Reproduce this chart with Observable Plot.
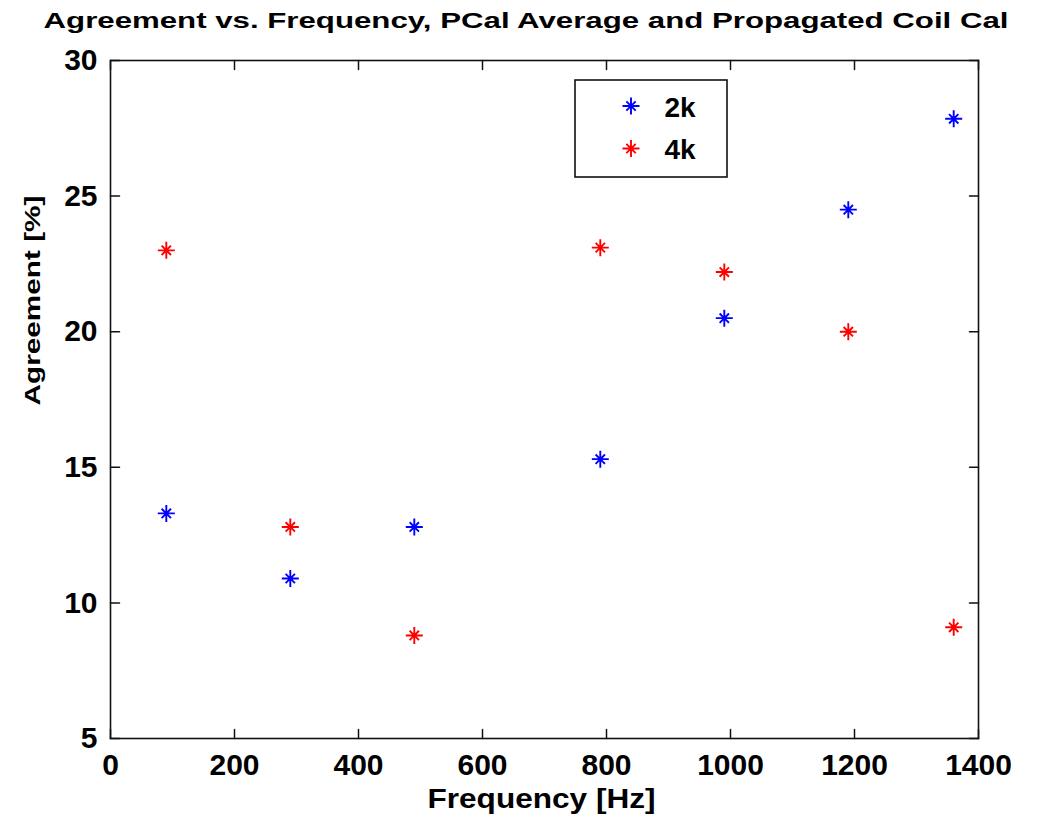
<!DOCTYPE html>
<html>
<head>
<meta charset="utf-8">
<script src="https://cdn.jsdelivr.net/npm/d3@7"></script>
<script src="https://cdn.jsdelivr.net/npm/@observablehq/plot@0.6"></script>
<style>
  html, body { margin: 0; padding: 0; background: #ffffff; }
  #chart { width: 1049px; height: 818px; }
</style>
</head>
<body>
<div id="chart"></div>
<script>
// ---- data ----
const frequency = [90, 290, 490, 790, 990, 1190, 1360];
const agreement2k = [13.3, 10.9, 12.8, 15.3, 20.5, 24.5, 27.85];
const agreement4k = [23.0, 12.8, 8.8, 23.1, 22.2, 20.0, 9.1];
const seriesNames = ["2k", "4k"];
const seriesColors = ["#0000ff", "#ff0000"];
const xTicks = [0, 200, 400, 600, 800, 1000, 1200, 1400];
const yTicks = [5, 10, 15, 20, 25, 30];
const titleText = "Agreement vs. Frequency, PCal Average and Propagated Coil Cal";
const xLabel = "Frequency [Hz]";
const yLabel = "Agreement [%]";

const rows = [];
frequency.forEach((f, i) => {
  rows.push({frequency: f, value: agreement2k[i], series: seriesNames[0]});
  rows.push({frequency: f, value: agreement4k[i], series: seriesNames[1]});
});

// MATLAB-like '*' marker: plus with shorter diagonals
const asterisk = {
  draw(context, size) {
    const r = Math.sqrt(size / Math.PI);
    const d = r * 0.55;
    context.moveTo(-r, 0); context.lineTo(r, 0);
    context.moveTo(0, -r); context.lineTo(0, r);
    context.moveTo(-d, -d); context.lineTo(d, d);
    context.moveTo(-d, d); context.lineTo(d, -d);
  }
};

const font = "'Liberation Sans', Arial, Helvetica, sans-serif";
const tickLen = 9;

const chart = Plot.plot({
  width: 1049,
  height: 818,
  marginLeft: 110,
  marginRight: 71,
  marginTop: 60,
  marginBottom: 80,
  style: {fontFamily: font, fontWeight: "bold", fontSize: "30px", background: "#ffffff", color: "#000"},
  x: {domain: [0, 1400]},
  y: {domain: [5, 30]},
  color: {domain: seriesNames, range: seriesColors},
  marks: [
    Plot.frame({stroke: "#111", strokeWidth: 1.6}),
    // inward ticks on all four sides
    Plot.vector(xTicks, {x: d => d, frameAnchor: "bottom", length: tickLen, rotate: 0, anchor: "start", r: 0, stroke: "#111", strokeWidth: 1.5}),
    Plot.vector(xTicks, {x: d => d, frameAnchor: "top", length: tickLen, rotate: 180, anchor: "start", r: 0, stroke: "#111", strokeWidth: 1.5}),
    Plot.vector(yTicks, {y: d => d, frameAnchor: "left", length: tickLen, rotate: 90, anchor: "start", r: 0, stroke: "#111", strokeWidth: 1.5}),
    Plot.vector(yTicks, {y: d => d, frameAnchor: "right", length: tickLen, rotate: -90, anchor: "start", r: 0, stroke: "#111", strokeWidth: 1.5}),
    Plot.axisX({ticks: xTicks, tickSize: 0, tickPadding: 15, tickFormat: d => String(d), label: null, fontSize: 30}),
    Plot.axisY({ticks: yTicks, tickSize: 0, tickPadding: 13, tickFormat: d => String(d), label: null, fontSize: 30}),
    Plot.dot(rows, {x: "frequency", y: "value", stroke: "series", symbol: asterisk, r: 8.5, fill: "none", strokeWidth: 1.9}),
    Plot.text([titleText], {text: d => d, frameAnchor: "top", lineAnchor: "bottom", dy: -33, dx: -18.5, fontSize: 22, ariaLabel: () => "chart-title"}),
    Plot.text([xLabel], {text: d => d, frameAnchor: "bottom", lineAnchor: "bottom", dy: 69, dx: -3, fontSize: 28, ariaLabel: () => "x-label"}),
    Plot.text([yLabel], {text: d => d, frameAnchor: "left", lineAnchor: "bottom", rotate: -90, dx: -70.7, dy: 6, fontSize: 22, ariaLabel: () => "y-label"})
  ]
});

document.getElementById("chart").appendChild(chart);

// stretch the wide MATLAB-style texts to their measured widths
const svg = d3.select(chart);
const stretch = (label, len) => {
  svg.selectAll(`[aria-label="${label}"]`).each(function() {
    const targets = this.tagName.toLowerCase() === "text" ? d3.select(this) : d3.select(this).selectAll("text");
    targets.attr("textLength", len).attr("lengthAdjust", "spacingAndGlyphs");
  });
};
stretch("chart-title", 965);
stretch("x-label", 228);
stretch("y-label", 210);

// legend box
const legend = svg.append("g").attr("aria-label", "legend");
legend.append("rect")
  .attr("x", 575).attr("y", 80).attr("width", 152).attr("height", 97)
  .attr("fill", "#fff").attr("stroke", "#111").attr("stroke-width", 1.6);
const symbolPath = d3.symbol().type(asterisk).size(Math.PI * 8.5 * 8.5)();
seriesNames.forEach((name, i) => {
  const cy = 106 + i * 42.5;
  legend.append("path")
    .attr("d", symbolPath)
    .attr("transform", `translate(631,${cy})`)
    .attr("fill", "none").attr("stroke", seriesColors[i]).attr("stroke-width", 1.9);
  legend.append("text")
    .attr("x", 680).attr("y", cy + 10.5)
    .attr("font-size", 28).attr("font-weight", "bold").attr("font-family", font)
    .attr("fill", "#000")
    .text(name);
});
</script>
</body>
</html>
